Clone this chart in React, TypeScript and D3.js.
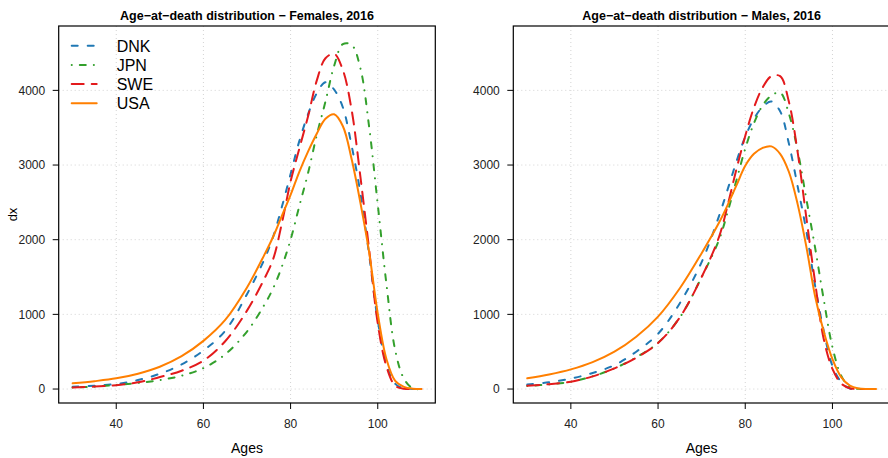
import { scaleLinear, line, curveCatmullRom } from 'd3';

// ages and dx values
const ages = [30, 35, 40, 45, 50, 55, 60, 65, 70, 74, 76, 78, 80, 82, 84, 86, 88, 90, 92, 94, 96, 98, 100, 102, 104, 106, 108, 110];

const countries = ['DNK', 'JPN', 'SWE', 'USA'];

const femDNK = [30, 45, 68, 120, 205, 330, 515, 780, 1270, 1740, 2040, 2440, 2880, 3320, 3680, 3960, 4110, 4010, 3770, 3260, 2630, 1810, 920, 330, 70, 10, 2, 0];
const femJPN = [20, 32, 55, 82, 120, 178, 280, 465, 770, 1130, 1350, 1640, 2000, 2450, 2890, 3400, 3850, 4330, 4620, 4610, 4300, 3520, 2470, 1400, 520, 140, 10, 0];
const femSWE = [22, 33, 52, 90, 160, 245, 380, 640, 1050, 1480, 1740, 2220, 2780, 3220, 3650, 4130, 4430, 4490, 4270, 3740, 2850, 1880, 880, 300, 45, 5, 1, 0];
const femUSA = [76, 105, 143, 205, 299, 440, 645, 925, 1360, 1800, 2040, 2320, 2600, 2910, 3180, 3420, 3620, 3680, 3520, 3080, 2500, 1840, 1010, 400, 110, 30, 5, 0];

const malDNK = [60, 90, 140, 215, 320, 500, 740, 1150, 1700, 2320, 2680, 3050, 3380, 3620, 3780, 3850, 3720, 3290, 2720, 2120, 1390, 780, 310, 95, 5, 0, 0, 0];
const malJPN = [42, 62, 98, 170, 277, 425, 620, 960, 1500, 2000, 2380, 2800, 3220, 3560, 3800, 3930, 3970, 3690, 3200, 2550, 1900, 1200, 560, 180, 25, 3, 0, 0];
const malSWE = [45, 65, 98, 170, 277, 420, 615, 960, 1500, 2040, 2470, 2950, 3390, 3770, 4040, 4190, 4190, 3850, 3180, 2300, 1440, 670, 270, 75, 10, 2, 0, 0];
const malUSA = [143, 195, 263, 360, 500, 700, 970, 1350, 1820, 2230, 2470, 2730, 2990, 3150, 3230, 3250, 3150, 2910, 2480, 1910, 1250, 770, 400, 160, 45, 8, 0, 0];

const xTicks = [40, 60, 80, 100];
const yTicks = [0, 1000, 2000, 3000, 4000];

const colors = ['#1f78b4', '#33a02c', '#e31a1c', '#ff7f00'];
// R lty 2, 4, 5, 1 at lwd 2 (round caps eat into the gaps)
const dashes = ['6,10', '0.1,8,6,8', '12,8', null];

const FONT = '"Liberation Sans", Arial, Helvetica, sans-serif';
const TOP = 26;
const BOTTOM = 403;
const yMax = 4675;

// R's default 4% axis extension
const pad = (lo: number, hi: number) => [lo - (hi - lo) * 0.04, hi + (hi - lo) * 0.04];

const y = scaleLinear().domain(pad(0, yMax)).range([BOTTOM, TOP]);

function Panel({ left, right, title, series, ylab, legend }) {
  const x = scaleLinear().domain(pad(30, 110)).range([left, right]);
  const path = line<number>()
    .x((_, i) => x(ages[i]))
    .y((d) => y(d))
    .curve(curveCatmullRom.alpha(0.5));
  const cx = (left + right) / 2;

  return (
    <g>
      {/* grid */}
      {xTicks.map((t) => (
        <line key={'gx' + t} x1={x(t)} x2={x(t)} y1={TOP} y2={BOTTOM} stroke="#d3d3d3" strokeDasharray="1,3" />
      ))}
      {yTicks.map((t) => (
        <line key={'gy' + t} x1={left} x2={right} y1={y(t)} y2={y(t)} stroke="#d3d3d3" strokeDasharray="1,3" />
      ))}

      {series.map((s, i) => (
        <path
          key={countries[i]}
          d={path(s) || ''}
          fill="none"
          stroke={colors[i]}
          strokeWidth={2}
          strokeLinecap="round"
          strokeLinejoin="round"
          strokeDasharray={dashes[i] || undefined}
        />
      ))}

      <rect x={left} y={TOP} width={right - left} height={BOTTOM - TOP} fill="none" stroke="#000" strokeWidth={1.2} />

      {/* axes */}
      {xTicks.map((t) => (
        <g key={'tx' + t}>
          <line x1={x(t)} x2={x(t)} y1={BOTTOM} y2={BOTTOM + 6} stroke="#000" />
          <text x={x(t)} y={427.5} textAnchor="middle" fontSize={12} fill="#222">{t}</text>
        </g>
      ))}
      {yTicks.map((t) => (
        <g key={'ty' + t}>
          <line x1={left - 6} x2={left} y1={y(t)} y2={y(t)} stroke="#000" />
          <text x={left - 13.5} y={y(t) + 4.2} textAnchor="end" fontSize={12} fill="#222">{t}</text>
        </g>
      ))}

      <text x={cx} y={19.8} textAnchor="middle" fontSize={12.5} fontWeight="bold" fill="#000">{title}</text>
      <text x={cx} y={453} textAnchor="middle" fontSize={14} fill="#000">Ages</text>
      {ylab && (
        <text transform={`translate(17,${(TOP + BOTTOM) / 2}) rotate(-90)`} textAnchor="middle" fontSize={13} fill="#000">{ylab}</text>
      )}

      {legend &&
        countries.map((c, i) => {
          const ly = 45.7 + i * 19.2;
          return (
            <g key={'lg' + c}>
              <line
                x1={left + 13}
                x2={left + 38}
                y1={ly}
                y2={ly}
                stroke={colors[i]}
                strokeWidth={2}
                strokeLinecap="round"
                strokeDasharray={dashes[i] || undefined}
              />
              <text x={left + 58} y={ly + 5.8} fontSize={16} fill="#000">{c}</text>
            </g>
          );
        })}
    </g>
  );
}

export default function App() {
  return (
    <div style={{ position: 'absolute', left: 0, top: 0 }}>
      <svg width={888} height={458} style={{ display: 'block', fontFamily: FONT, background: '#fff' }}>
        <Panel
          left={58.7}
          right={435.3}
          title="Age−at−death distribution − Females, 2016"
          series={[femDNK, femJPN, femSWE, femUSA]}
          ylab="dx"
          legend
        />
        <Panel
          left={513.3}
          right={890}
          title="Age−at−death distribution − Males, 2016"
          series={[malDNK, malJPN, malSWE, malUSA]}
          ylab={null}
          legend={false}
        />
      </svg>
    </div>
  );
}
